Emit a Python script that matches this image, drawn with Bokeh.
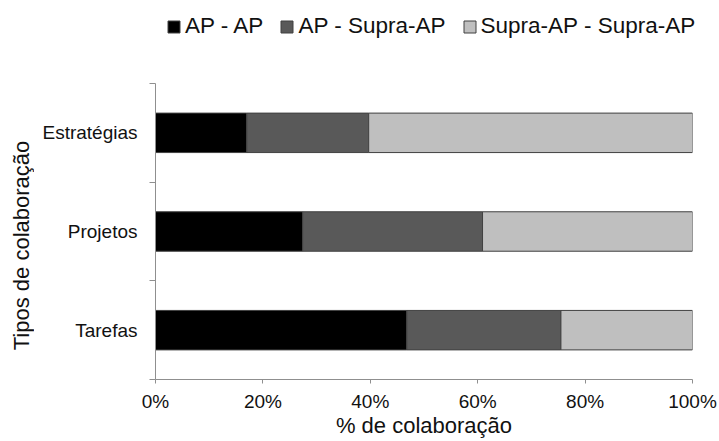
import math
from bokeh.plotting import figure
from bokeh.layouts import column, row
from bokeh.models import (Range1d, FixedTicker, PrintfTickFormatter, Legend,
                          LegendItem, Label, ColumnDataSource)
from bokeh.embed import file_html
from bokeh.resources import INLINE

# ---- data ----
categories = ["Tarefas", "Projetos", "Estratégias"]          # bottom -> top
series = ["AP - AP", "AP - Supra-AP", "Supra-AP - Supra-AP"]
ap_ap = [46.8, 27.4, 17.0]
ap_supra = [28.7, 33.5, 22.7]
supra_supra = [24.5, 39.1, 60.3]
x_ticks = [0, 20, 40, 60, 80, 100]
x_title = "% de colaboração"
y_title = "Tipos de colaboração"

colors = ["#000000", "#595959", "#bfbfbf"]
EDGE = "#404040"
FONT = "Liberation Sans"
TXT = "#111111"
AX = "#8f8f8f"

TOTAL_W, TOTAL_H = 719, 441
LEG_H = 60
YT_W = 34
MAIN_W = TOTAL_W - YT_W
MAIN_H = TOTAL_H - LEG_H


def blank_fig(w, h, xr, yr):
    f = figure(width=w, height=h, output_backend="svg", toolbar_location=None,
               x_range=xr, y_range=yr,
               x_axis_location=None, y_axis_location=None,
               min_border=0, min_border_left=0, min_border_right=0,
               min_border_top=0, min_border_bottom=0)
    f.outline_line_color = None
    f.xgrid.visible = False
    f.ygrid.visible = False
    return f


src = ColumnDataSource(dict(
    y=list(range(len(categories))),
    s0=ap_ap, s1=ap_supra, s2=supra_supra,
))
keys = ["s0", "s1", "s2"]

# ---- main chart ----
p = figure(width=MAIN_W, height=MAIN_H, output_backend="svg", toolbar_location=None,
           x_range=Range1d(0, 100), y_range=Range1d(-0.5, len(categories) - 0.5),
           min_border_left=121, min_border_right=27,
           min_border_top=23, min_border_bottom=62)
p.outline_line_color = None
p.xgrid.visible = False
p.ygrid.visible = False

p.hbar_stack(keys, y="y", height=0.4, source=src,
             fill_color=colors, line_color=EDGE, line_width=1)

xa = p.xaxis[0]
xa.ticker = FixedTicker(ticks=x_ticks, minor_ticks=[])
xa.formatter = PrintfTickFormatter(format="%d%%")
xa.axis_line_color = AX
xa.major_tick_line_color = AX
xa.major_tick_out = 4
xa.major_tick_in = 0
xa.minor_tick_line_color = None
xa.major_label_standoff = 7
xa.major_label_text_font = FONT
xa.major_label_text_font_size = "19px"
xa.major_label_text_color = TXT
xa.axis_label = x_title
xa.axis_label_standoff = -2
xa.axis_label_text_font = FONT
xa.axis_label_text_font_size = "22px"
xa.axis_label_text_font_style = "normal"
xa.axis_label_text_color = TXT

ya = p.yaxis[0]
ya.ticker = FixedTicker(ticks=list(range(len(categories))),
                        minor_ticks=[i - 0.5 for i in range(len(categories) + 1)])
ya.major_label_overrides = {i: c for i, c in enumerate(categories)}
ya.axis_line_color = AX
ya.major_tick_out = 0
ya.major_tick_in = 0
ya.major_tick_line_color = None
ya.minor_tick_line_color = AX
ya.minor_tick_out = 6
ya.minor_tick_in = 0
ya.major_label_standoff = 12
ya.major_label_text_font = FONT
ya.major_label_text_font_size = "19px"
ya.major_label_text_color = TXT

# ---- y title strip (frame aligned with main frame) ----
yt = blank_fig(YT_W, MAIN_H, Range1d(0, 1), Range1d(0, 1))
yt.add_layout(Label(x=21, y=134, x_units="screen", y_units="screen",
                    text=y_title, angle=math.pi / 2, text_align="center",
                    text_baseline="middle", text_font=FONT,
                    text_font_size="22px", text_color=TXT))

# ---- legend strip (swatch renderers kept outside the visible range) ----
lg = blank_fig(TOTAL_W, LEG_H, Range1d(0, 1), Range1d(10, 11))
leg_rends = lg.hbar_stack(keys, y="y", height=0.4, source=src,
                          fill_color=colors, line_color=EDGE, line_width=1)
legend = Legend(items=[LegendItem(label=s, renderers=[r]) for s, r in zip(series, leg_rends)],
                orientation="horizontal", location=(166, 21),
                padding=0, margin=0, spacing=16,
                glyph_width=15, glyph_height=15, label_standoff=4,
                label_text_font=FONT, label_text_font_size="22.5px",
                label_text_color=TXT, border_line_color=None,
                background_fill_alpha=0)
lg.add_layout(legend)

layout = column(lg, row(yt, p))
open("out.html", "w").write(file_html(layout, INLINE))
